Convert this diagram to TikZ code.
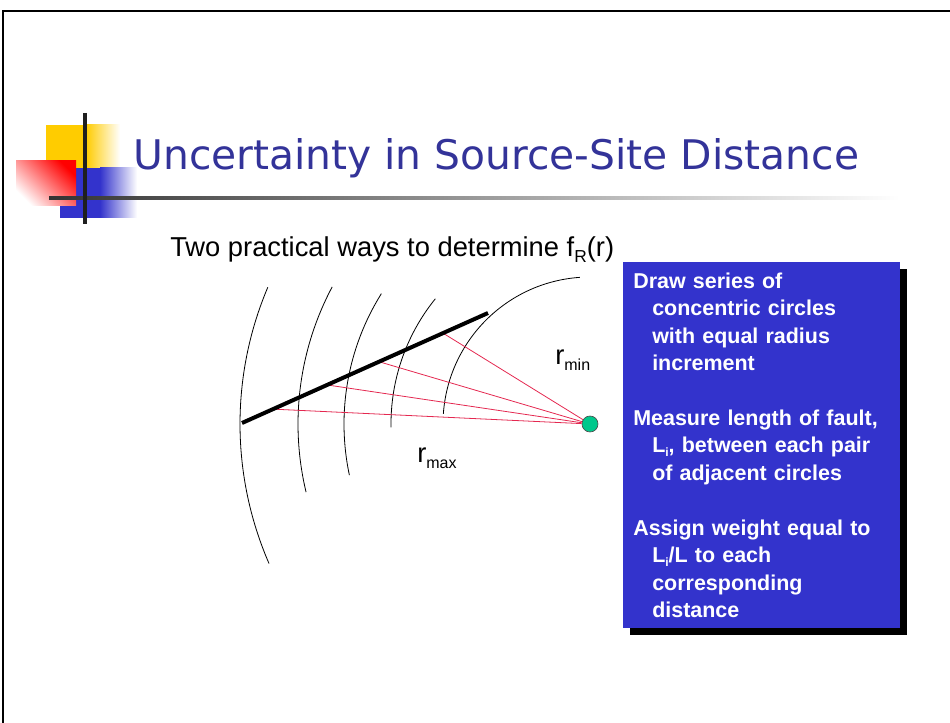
\documentclass[tikz,border=0pt]{standalone}
\usepackage{fontspec}
\setmainfont{Liberation Sans}
\newfontfamily\titlefont{DejaVu Sans}
\usepackage{xcolor}
\usepackage{tikz}
\usetikzlibrary{calc,shadows}
\definecolor{titleblue}{RGB}{51,51,153}
\definecolor{boxblue}{RGB}{51,51,204}
\definecolor{logoyellow}{RGB}{255,204,0}
\definecolor{sitegreen}{RGB}{0,200,140}
\definecolor{rayred}{RGB}{228,40,80}
\newcommand{\lowtxt}[2][12pt]{\raisebox{-0.35ex}{\fontsize{#1}{#1}\selectfont #2}}
\newcommand{\ind}{\hspace*{14.25pt}}

\begin{document}
\begin{tikzpicture}[x=0.75pt, y=-0.75pt,
    arcline/.style={line width=0.6pt},
    ray/.style={rayred, line width=0.6pt},
    rlabel/.style={font=\fontsize{20.5pt}{24pt}\selectfont, inner sep=0pt, anchor=base west}]
    \useasboundingbox (0,0) rectangle (950,723);
    \draw[line width=1.6pt] (3,723) -- (3,11) -- (950,11);

    % logo
    \fill[logoyellow] (46,125) rectangle (86,168);
    \shade[left color=logoyellow, right color=white] (86,125) rectangle (120,168);
    \fill[boxblue] (60,168) rectangle (100,218);
    \shade[left color=boxblue, right color=white] (100,168) rectangle (137,218);
    \shade[top color=red, bottom color=white, shading angle=-45] (16,161) rectangle (76,206);
    \shade[left color=black!80, right color=white] (49,196.5) rectangle (900,199.5);
    \draw[line width=3pt, black!88] (85,113) -- (85,224);

    \node[anchor=base west, inner sep=0pt, text=titleblue, font=\titlefont\fontsize{30.6pt}{36pt}\selectfont] (title) at (133,170) {Uncertainty in Source-Site Distance};
    \node[rlabel] (subtitle) at (170,257) {Two practical ways to determine f\lowtxt[13pt]{R}(r)};

    % circles round the site
    \coordinate (ctr) at (590,424);
    \draw[arcline] (ctr) ++(-94:147) arc[start angle=-94, end angle=-176, radius=147];
    \draw[arcline] (ctr) ++(-141:199) arc[start angle=-141, end angle=-181, radius=199];
    \draw[arcline] (ctr) ++(-148:246) arc[start angle=-148, end angle=-192, radius=246];
    \draw[arcline] (ctr) ++(-152:292) arc[start angle=-152, end angle=-193.5, radius=292];
    \draw[arcline] (ctr) ++(-157:350) arc[start angle=-157, end angle=-203.5, radius=350];

    % fault and distances
    \coordinate (faultA) at (242,423);
    \coordinate (faultB) at (488,313);
    \coordinate (p1) at ($(faultA)!0.126!(faultB)$);
    \coordinate (p2) at ($(faultA)!0.346!(faultB)$);
    \coordinate (p3) at ($(faultA)!0.557!(faultB)$);
    \coordinate (p4) at ($(faultA)!0.817!(faultB)$);
    \node[circle, fill=sitegreen, draw=black!70, line width=0.5pt, minimum size=12pt, inner sep=0pt] (site) at (ctr) {};
    \draw[ray] (site) -- (p1);
    \draw[ray] (site) -- (p2);
    \draw[ray] (site) -- (p3);
    \draw[ray] (site) -- (p4);
    \draw[line width=3pt] (faultA) -- (faultB);

    \node[rlabel] (rmin) at (555,365) {r\lowtxt{min}};
    \node[rlabel] (rmax) at (417,463) {r\lowtxt{max}};

    \node[anchor=north west, fill=boxblue, text=white, align=left, inner xsep=7.5pt, inner ysep=0pt,
          text width=192.75pt, minimum height=274.5pt,
          font=\bfseries\fontsize{16.1pt}{20.6pt}\selectfont,
          drop shadow={shadow xshift=5pt, shadow yshift=-5pt, fill=black, opacity=1}] (steps) at (623,262)
        {Draw series of\\ \ind concentric circles\\ \ind with equal radius\\ \ind increment\\[20.6pt]
         Measure length of fault,\\ \ind L\lowtxt[9pt]{i}, between each pair\\ \ind of adjacent circles\\[20.6pt]
         Assign weight equal to\\ \ind L\lowtxt[9pt]{i}/L to each\\ \ind corresponding\\ \ind distance};
\end{tikzpicture}
\end{document}
